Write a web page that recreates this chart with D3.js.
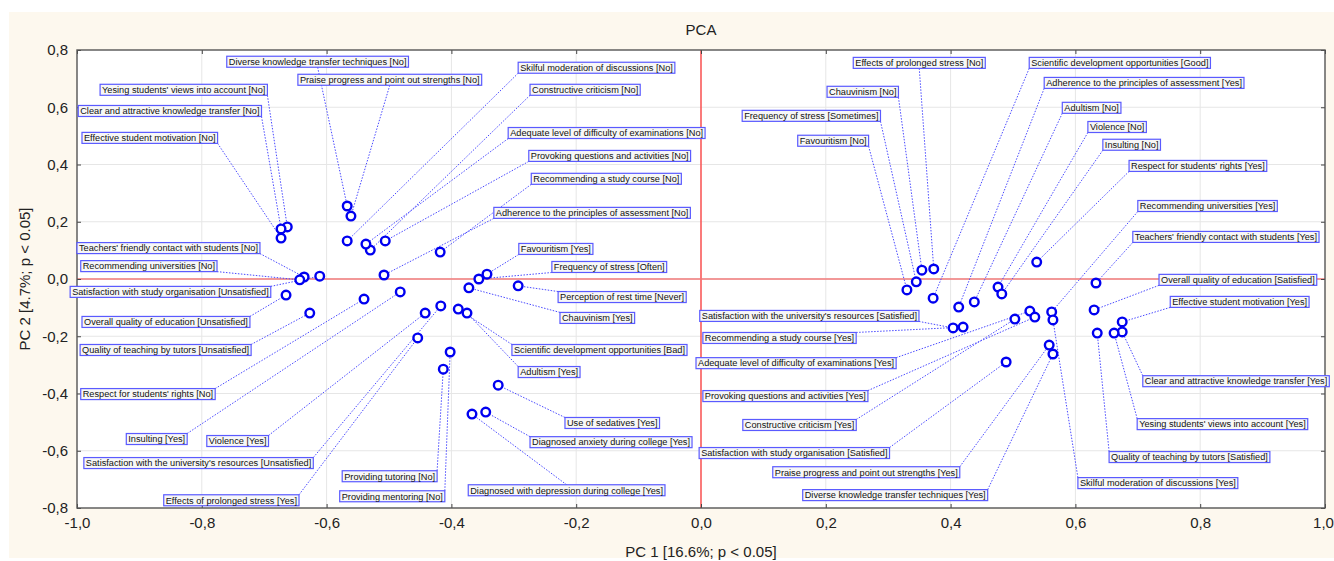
<!DOCTYPE html>
<html>
<head>
<meta charset="utf-8">
<script src="https://cdn.jsdelivr.net/npm/d3@7"></script>
<style>
  body { margin: 0; background: #fff; }
  svg { display: block; font-family: "Liberation Sans", Arial, sans-serif; }
</style>
</head>
<body>
<svg width="1334" height="561"></svg>
<script>
// Variable names (categories)
var names = [
  "Diverse knowledge transfer techniques [No]",
  "Praise progress and point out strengths [No]",
  "Yesing students' views into account [No]",
  "Clear and attractive knowledge transfer [No]",
  "Effective student motivation [No]",
  "Skilful moderation of discussions [No]",
  "Constructive criticism [No]",
  "Adequate level of difficulty of examinations [No]",
  "Provoking questions and activities [No]",
  "Recommending a study course [No]",
  "Adherence to the principles of assessment [No]",
  "Teachers' friendly contact with students [No]",
  "Recommending universities [No]",
  "Satisfaction with study organisation [Unsatisfied]",
  "Overall quality of education [Unsatisfied]",
  "Quality of teaching by tutors [Unsatisfied]",
  "Respect for students' rights [No]",
  "Insulting [Yes]",
  "Violence [Yes]",
  "Satisfaction with the university's resources [Unsatisfied]",
  "Effects of prolonged stress [Yes]",
  "Providing tutoring [No]",
  "Providing mentoring [No]",
  "Favouritism [Yes]",
  "Frequency of stress [Often]",
  "Perception of rest time [Never]",
  "Chauvinism [Yes]",
  "Scientific development opportunities [Bad]",
  "Adultism [Yes]",
  "Use of sedatives [Yes]",
  "Diagnosed anxiety during college [Yes]",
  "Diagnosed with depression during college [Yes]",
  "Effects of prolonged stress [No]",
  "Chauvinism [No]",
  "Frequency of stress [Sometimes]",
  "Favouritism [No]",
  "Scientific development opportunities [Good]",
  "Adherence to the principles of assessment [Yes]",
  "Adultism [No]",
  "Violence [No]",
  "Insulting [No]",
  "Respect for students' rights [Yes]",
  "Recommending universities [Yes]",
  "Teachers' friendly contact with students [Yes]",
  "Overall quality of education [Satisfied]",
  "Effective student motivation [Yes]",
  "Clear and attractive knowledge transfer [Yes]",
  "Yesing students' views into account [Yes]",
  "Quality of teaching by tutors [Satisfied]",
  "Skilful moderation of discussions [Yes]",
  "Satisfaction with the university's resources [Satisfied]",
  "Recommending a study course [Yes]",
  "Adequate level of difficulty of examinations [Yes]",
  "Provoking questions and activities [Yes]",
  "Constructive criticism [Yes]",
  "Satisfaction with study organisation [Satisfied]",
  "Praise progress and point out strengths [Yes]",
  "Diverse knowledge transfer techniques [Yes]"
];

// PC 1 scores
var pc1 = [
  -0.567, -0.561, -0.663, -0.673, -0.673, -0.567, -0.530, -0.537, -0.506, -0.418,
  -0.508, -0.636, -0.643, -0.611, -0.665, -0.627, -0.540, -0.482, -0.442, -0.417,
  -0.454, -0.413, -0.402, -0.343, -0.356, -0.293, -0.372, -0.389, -0.375, -0.325,
  -0.345, -0.367,
   0.373,  0.354,  0.345,  0.330,  0.372,  0.413,  0.438,  0.476,  0.482,  0.538,
   0.562,  0.633,  0.630,  0.675,  0.675,  0.662,  0.635,  0.564,  0.404,  0.420,
   0.527,  0.535,  0.503,  0.489,  0.558,  0.564
];

// PC 2 scores
var pc2 = [
   0.255,  0.220,  0.182,  0.175,  0.143,  0.133,  0.101,  0.122,  0.133,  0.094,
   0.014,  0.007, -0.003,  0.010, -0.056, -0.119, -0.070, -0.045, -0.119, -0.094,
  -0.206, -0.315, -0.255,  0.017,  0.000, -0.024, -0.031, -0.105, -0.119, -0.371,
  -0.465, -0.472,
   0.035,  0.031, -0.010, -0.038, -0.067, -0.098, -0.080, -0.028, -0.052,  0.059,
  -0.115, -0.014, -0.108, -0.150, -0.185, -0.189, -0.189, -0.143, -0.171, -0.168,
  -0.112, -0.133, -0.140, -0.290, -0.231, -0.262
];

// Where each label box sits (left edge, vertical middle), in axis units
var labelAt = [
  [-0.760, 0.759], [-0.646, 0.696], [-0.963, 0.661], [-0.998, 0.587], [-0.992, 0.493],
  [-0.293, 0.738], [-0.274, 0.661], [-0.309, 0.510], [-0.276, 0.430], [-0.272, 0.350],
  [-0.332, 0.231], [-1.000, 0.108], [-0.994, 0.045], [-1.011, -0.045], [-0.992, -0.150],
  [-0.995, -0.248], [-0.994, -0.402], [-0.921, -0.559], [-0.792, -0.566], [-0.989, -0.643],
  [-0.861, -0.773], [-0.575, -0.689], [-0.579, -0.759], [-0.292, 0.105], [-0.239, 0.042],
  [-0.229, -0.063], [-0.226, -0.136], [-0.303, -0.248], [-0.293, -0.325], [-0.218, -0.503],
  [-0.274, -0.570], [-0.373, -0.738],
  [0.244, 0.755], [0.202, 0.654], [0.066, 0.570], [0.155, 0.483], [0.526, 0.755],
  [0.550, 0.685], [0.579, 0.598], [0.620, 0.531], [0.644, 0.469], [0.686, 0.395],
  [0.700, 0.255], [0.692, 0.147], [0.734, -0.003], [0.752, -0.080], [0.708, -0.357],
  [0.699, -0.507], [0.654, -0.622], [0.604, -0.713], [-0.002, -0.129], [0.003, -0.206],
  [-0.008, -0.294], [0.003, -0.409], [0.067, -0.510], [-0.003, -0.608], [0.115, -0.675],
  [0.163, -0.755]
];

var xTicks = [-1, -0.8, -0.6, -0.4, -0.2, 0, 0.2, 0.4, 0.6, 0.8, 1];
var yTicks = [-0.8, -0.6, -0.4, -0.2, 0, 0.2, 0.4, 0.6, 0.8];

var svg = d3.select("svg"),
    width = +svg.attr("width"),
    height = +svg.attr("height");

// plot box
var pL = 77, pR = 1325, pT = 50, pB = 508;

var x = d3.scaleLinear().domain([-1, 1]).range([pL, pR]);
var y = d3.scaleLinear().domain([-0.8, 0.8]).range([pB, pT]);

var fmt = d3.formatLocale({decimal: ",", thousands: ".", grouping: [3], currency: ["", ""], minus: "-"}).format(".1f");

// page background
svg.append("rect").attr("width", width).attr("height", height).attr("fill", "#fff");
svg.append("rect").attr("x", 9).attr("y", 12).attr("width", width - 9).attr("height", 546).attr("fill", "#fdf8ee");

// plot area
svg.append("rect")
  .attr("x", pL).attr("y", pT)
  .attr("width", pR - pL).attr("height", pB - pT)
  .attr("fill", "#fff");

// grid
svg.append("g").selectAll("line")
  .data(xTicks.slice(1, -1))
  .enter().append("line")
    .attr("x1", function(d){ return x(d) }).attr("x2", function(d){ return x(d) })
    .attr("y1", pT).attr("y2", pB)
    .attr("stroke", "#e6e6e6");
svg.append("g").selectAll("line")
  .data(yTicks.slice(1, -1))
  .enter().append("line")
    .attr("y1", function(d){ return y(d) }).attr("y2", function(d){ return y(d) })
    .attr("x1", pL).attr("x2", pR)
    .attr("stroke", "#e6e6e6");

// zero lines
svg.append("line").attr("x1", x(0)).attr("x2", x(0)).attr("y1", pT).attr("y2", pB)
  .attr("stroke", "#ff2a2a").attr("stroke-width", 1.2);
svg.append("line").attr("x1", pL).attr("x2", pR).attr("y1", y(0)).attr("y2", y(0))
  .attr("stroke", "#f27a7a").attr("stroke-width", 1.5);

// axes, ticks pointing inward
function styleAxis(g){
  g.select(".domain").remove();
  g.selectAll(".tick line").attr("stroke", "#444");
  g.selectAll(".tick text").attr("fill", "#222").attr("font-size", 15).attr("font-family", "Liberation Sans, Arial, sans-serif");
}
svg.append("g").attr("transform", "translate(0," + pB + ")")
  .call(d3.axisBottom(x).tickValues(xTicks).tickFormat(fmt).tickSizeInner(-4).tickSizeOuter(0).tickPadding(9))
  .call(styleAxis)
  .selectAll(".tick text").filter(function(d){ return d === 1 }).attr("dx", -2);
svg.append("g").attr("transform", "translate(" + pL + ",0)")
  .call(d3.axisLeft(y).tickValues(yTicks).tickFormat(fmt).tickSizeInner(-4).tickSizeOuter(0).tickPadding(9))
  .call(styleAxis);
svg.append("g").attr("transform", "translate(0," + pT + ")")
  .call(d3.axisTop(x).tickValues(xTicks).tickFormat("").tickSizeInner(-4).tickSizeOuter(0))
  .call(styleAxis);
svg.append("g").attr("transform", "translate(" + pR + ",0)")
  .call(d3.axisRight(y).tickValues(yTicks).tickFormat("").tickSizeInner(-4).tickSizeOuter(0))
  .call(styleAxis);

// frame
svg.append("rect")
  .attr("x", pL).attr("y", pT)
  .attr("width", pR - pL).attr("height", pB - pT)
  .attr("fill", "none").attr("stroke", "#555").attr("stroke-width", 1.4);

// titles
svg.append("text").attr("x", x(0)).attr("y", 35).attr("text-anchor", "middle")
  .style("font-size", "15px").attr("fill", "#222").text("PCA");
svg.append("text").attr("x", x(0)).attr("y", 557).attr("text-anchor", "middle")
  .style("font-size", "15px").attr("fill", "#222").text("PC 1 [16.6%; p < 0.05]");
svg.append("text").attr("transform", "translate(30," + y(0) + ") rotate(-90)").attr("text-anchor", "middle")
  .style("font-size", "15px").attr("fill", "#222").text("PC 2 [4.7%; p < 0.05]");

// build the point table
var points = names.map(function(n, i){
  return {name: n, px: x(pc1[i]), py: y(pc2[i]), lx: x(labelAt[i][0]), ly: y(labelAt[i][1])};
});

var leaders = svg.append("g");
var labelG = svg.append("g");

// label boxes: text first, then measure it
points.forEach(function(d){
  var g = labelG.append("g");
  var rect = g.append("rect");
  var t = g.append("text")
    .attr("x", d.lx + 2).attr("y", d.ly + 3.3)
    .style("font-size", "9.2px").attr("fill", "#111")
    .text(d.name);
  var w = t.node().getComputedTextLength() + 4;
  d.x0 = d.lx; d.x1 = d.lx + w; d.y0 = d.ly - 5.5; d.y1 = d.ly + 5.5;
  rect.attr("x", d.x0).attr("y", d.y0).attr("width", w).attr("height", 11)
    .attr("fill", "#f7f7f7").attr("stroke", "#5a5aff").attr("stroke-width", 1.2);
});

// leader lines: from the box edge facing the point
leaders.selectAll("line")
  .data(points)
  .enter().append("line")
    .attr("x1", function(d){ return d.px < d.x0 ? d.x0 : d.px > d.x1 ? d.x1 : (d.x0 + d.x1) / 2 })
    .attr("y1", function(d){ return d.py < d.y0 ? d.y0 : d.py > d.y1 ? d.y1 : (d.y0 + d.y1) / 2 })
    .attr("x2", function(d){ return d.px })
    .attr("y2", function(d){ return d.py })
    .attr("stroke", "#4a4aff")
    .attr("stroke-width", 1)
    .attr("stroke-dasharray", "1.5,1.5");

// points
svg.append("g").selectAll("circle")
  .data(points)
  .enter().append("circle")
    .attr("cx", function(d){ return d.px })
    .attr("cy", function(d){ return d.py })
    .attr("r", 4.3)
    .attr("fill", "#fff")
    .attr("stroke", "#0000f0")
    .attr("stroke-width", 2.4);

labelG.raise();
</script>
</body>
</html>
